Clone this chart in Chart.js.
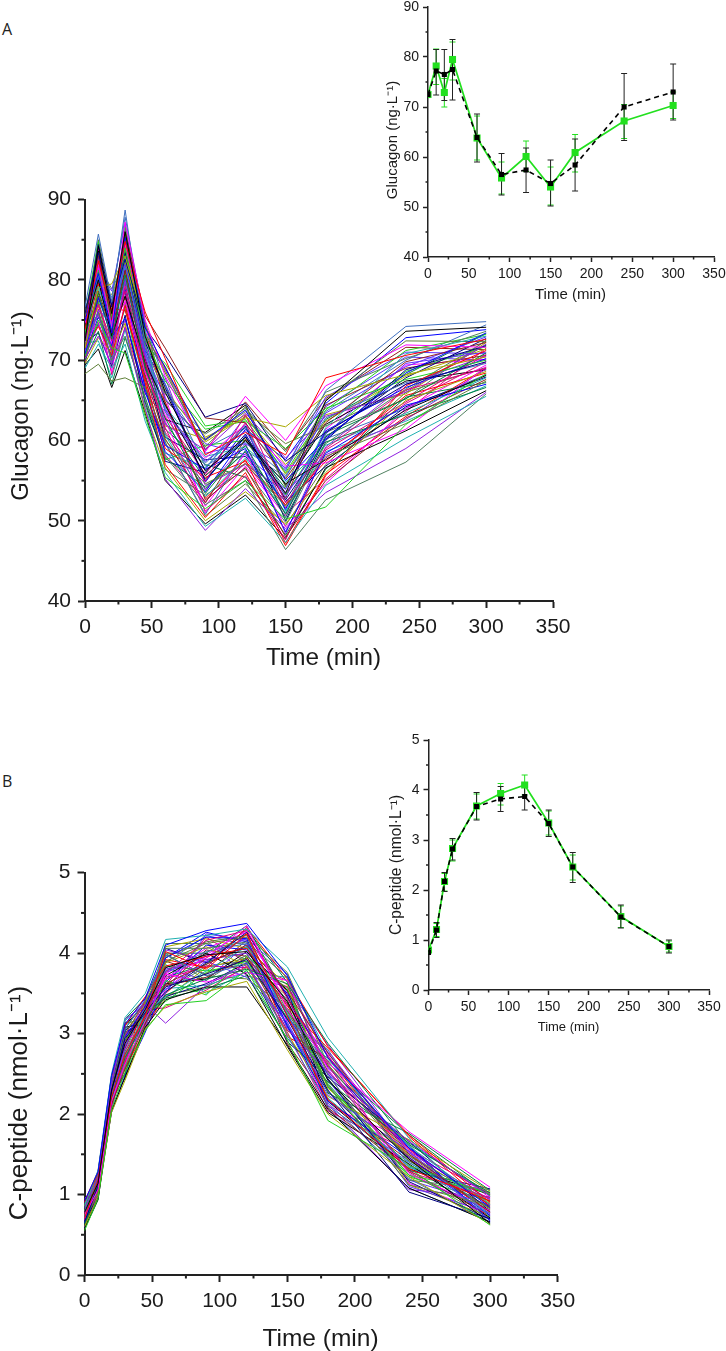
<!DOCTYPE html>
<html>
<head>
<meta charset="utf-8">
<script src="https://cdn.jsdelivr.net/npm/chart.js@4"></script>
<style>
  html, body { margin: 0; background: #fff; }
  body { position: relative; width: 726px; height: 1351px; overflow: hidden; }
  canvas { position: absolute; filter: blur(0.35px); }
  .tag { position: absolute; left: 2px; font: 16px "Open Sans", sans-serif; color: #222; }
</style>
</head>
<body>
<div class="tag" style="top:18px">A</div>
<div class="tag" style="top:770px">B</div>
<canvas id="glucagonRuns"></canvas>
<canvas id="glucagonMean"></canvas>
<canvas id="cpeptideRuns"></canvas>
<canvas id="cpeptideMean"></canvas>
<script>
const timeMin = [0, 10, 20, 30, 60, 90, 120, 150, 180, 240, 300];
const traceMin = [0, 10, 20, 30, 45, 60, 90, 120, 150, 180, 240, 300];

// inset means
const glucagonModel = [72.5, 77.2, 76.5, 77.5, 63.9, 56.5, 57.4, 54.7, 58.4, 70.0, 73.0];
const glucagonObs   = [72.5, 78.2, 72.9, 79.5, 63.8, 55.8, 60.1, 54.0, 60.9, 67.2, 70.3];
const glucagonModelLo = [null, 72.4, 71.3, 71.4, 59.0, 52.4, 52.9, 50.2, 53.2, 63.3, 67.4];
const glucagonModelHi = [null, 81.5, 81.5, 83.5, 68.6, 60.7, 61.8, 59.4, 63.6, 76.7, 78.6];
const glucagonObsLo = [null, 74.5, 70.0, 75.4, 59.4, 52.6, 57.1, 50.4, 57.0, 63.7, 67.7];
const glucagonObsHi = [null, 81.6, 75.7, 83.0, 68.2, 59.0, 63.2, 58.0, 64.5, 70.5, 73.0];

const cpeptideModel = [0.75, 1.20, 2.17, 2.82, 3.67, 3.82, 3.87, 3.33, 2.46, 1.46, 0.87];
const cpeptideObs   = [0.80, 1.21, 2.17, 2.83, 3.68, 3.93, 4.10, 3.34, 2.46, 1.47, 0.87];
const cpeptideModelLo = [null, 1.05, 1.97, 2.60, 3.40, 3.57, 3.60, 3.07, 2.15, 1.24, 0.74];
const cpeptideModelHi = [null, 1.35, 2.35, 3.03, 3.95, 4.07, 4.12, 3.60, 2.75, 1.70, 1.00];
const cpeptideObsLo = [null, 1.07, 1.98, 2.58, 3.42, 3.70, 3.90, 3.10, 2.20, 1.25, 0.76];
const cpeptideObsHi = [null, 1.33, 2.33, 3.00, 3.92, 4.13, 4.30, 3.58, 2.70, 1.68, 0.98];

// individual traces, estimated from the spread of the main panels
const glucagonTraces = [
  [72.4,84.2,75.8,86.0,73.0,66.0,56.2,60.4,53.4,64.9,73.6,74.1],
  [73.8,82.4,76.0,84.8,76.0,70.2,58.2,61.0,58.2,67.8,70.6,72.6],
  [70.5,75.0,71.5,70.9,63.0,55.4,51.5,55.0,50.2,51.7,62.0,68.3],
  [74.9,80.8,73.4,85.3,74.1,69.0,60.1,63.8,55.0,60.2,68.4,73.4],
  [69.0,72.0,69.0,72.0,62.4,56.0,49.3,52.8,47.3,54.4,60.3,65.5],
  [74.6,81.9,74.2,87.2,75.0,68.0,58.6,65.5,60.0,66.8,71.9,71.6],
  [71.5,79.0,79.5,83.0,74.4,68.6,60.4,62.8,61.7,65.6,68.2,70.4],
  [75.8,83.4,76.6,82.6,74.0,70.6,62.9,64.6,57.4,61.0,67.0,69.8],
  [70.2,73.0,69.5,74.0,64.0,55.2,48.8,54.0,49.0,53.5,59.0,66.0],
  [75.1,83.0,75.0,86.0,75.5,71.5,62.8,62.2,55.2,62.2,69.8,72.2],
  [68.3,69.5,67.4,67.8,66.6,60.0,54.6,57.1,51.8,58.0,62.1,67.4],
  [73.1,78.4,72.6,80.6,69.0,62.8,53.4,59.4,50.8,60.6,65.2,70.9],
  [76.6,85.7,77.2,88.7,72.0,63.6,57.2,61.6,56.2,66.2,74.2,74.8],
  [72.8,77.0,71.2,79.2,70.0,61.0,54.9,63.2,52.2,59.0,66.3,69.0],
  [71.1,76.2,74.8,81.9,71.0,65.2,59.6,58.2,53.9,63.4,69.2,72.9],
  [72.0,76.0,70.0,73.0,65.0,58.0,52.0,55.0,46.4,52.6,57.3,65.8],
  [74.0,80.0,73.0,78.0,69.8,64.4,55.6,60.0,54.6,57.6,63.8,68.1],
  [71.7,74.2,70.6,76.8,67.2,57.0,50.4,56.0,46.9,55.6,66.8,71.2],
  [73.4,81.2,75.4,84.0,72.6,67.4,61.4,62.4,59.0,64.0,67.6,70.0],
  [70.8,77.8,72.9,75.2,66.0,59.4,56.4,59.0,48.6,58.4,64.4,67.0],
  [75.4,79.2,74.0,82.8,73.8,60.6,53.0,57.8,51.0,61.6,70.8,73.0],
  [72.2,74.8,68.6,77.4,68.4,63.2,57.8,62.0,56.8,57.2,61.4,69.2],
  [69.6,72.8,71.0,74.6,63.6,56.6,50.0,53.6,49.6,56.0,65.0,68.6],
  [74.4,84.4,76.8,83.4,72.2,66.6,55.0,60.8,52.6,60.0,68.8,71.8],
  [73.0,75.6,69.8,79.8,70.6,62.0,58.8,63.4,57.8,63.0,66.0,72.0],
  [71.3,78.6,73.6,81.2,69.4,64.8,52.6,56.6,48.0,55.0,62.8,67.6],
  [76.0,82.0,75.6,85.8,73.4,68.4,59.2,64.2,54.2,65.0,72.4,72.3],
  [70.0,73.6,67.0,72.8,65.4,57.8,54.2,58.6,50.4,59.8,63.2,66.6],
  [72.6,80.6,77.8,87.8,74.6,67.0,56.8,59.8,55.6,62.8,67.2,69.6],
  [74.2,76.8,72.4,78.6,68.8,61.6,51.2,55.6,47.6,58.8,64.8,70.7],
  [71.9,83.0,70.8,80.2,70.4,63.8,57.4,61.2,53.0,60.8,69.6,71.0],
  [73.6,77.6,74.6,83.8,71.6,65.8,60.8,64.0,58.6,66.0,70.2,73.6],
  [69.4,71.4,66.6,71.2,63.4,55.0,49.6,53.2,47.8,56.6,61.2,66.2],
  [72.9,79.6,76.4,76.2,67.6,59.0,55.4,57.4,52.0,57.4,65.6,68.4],
  [75.6,84.8,73.8,86.6,71.8,69.6,61.8,62.6,56.0,63.8,71.2,73.2],
  [70.6,75.4,71.8,78.8,66.4,58.6,53.6,60.6,51.4,61.2,66.6,70.2],
  [74.7,78.8,75.2,81.6,70.8,64.2,58.0,59.2,54.8,59.4,63.4,67.8],
  [71.6,81.6,72.2,84.4,72.8,62.4,51.8,58.4,49.2,54.6,64.0,69.4],
  [73.3,76.6,78.2,82.2,73.2,66.4,59.8,63.0,57.0,62.4,68.0,71.4],
  [72.3,73.4,69.2,75.6,64.8,57.4,56.0,61.8,50.0,60.4,67.8,72.7],
  [75.0,82.8,74.4,80.0,71.4,67.8,54.4,57.0,53.6,58.2,62.6,68.9],
  [70.3,78.0,73.2,77.8,68.2,60.2,52.2,60.2,52.8,64.4,69.0,70.6],
  [73.9,85.0,77.0,85.0,74.8,65.0,60.0,63.6,59.6,61.8,66.2,71.9],
  [71.0,74.6,70.4,83.2,69.6,61.4,57.0,55.4,48.2,56.4,65.4,67.2],
  [74.8,80.4,75.0,79.0,67.0,59.6,50.8,58.8,55.4,63.6,70.0,74.4],
  [69.8,76.4,68.2,74.2,65.8,63.0,55.8,62.2,51.6,57.8,64.6,69.8],
  [72.7,81.4,78.6,87.0,72.4,68.8,58.4,59.6,56.6,65.4,71.0,70.8],
  [73.2,75.8,71.6,76.4,66.8,56.4,53.2,56.4,49.8,59.6,66.4,72.4],
  [71.4,83.6,73.0,81.4,70.2,62.6,61.0,64.4,54.4,62.0,67.4,68.8],
  [75.3,79.4,76.2,84.6,73.6,64.6,52.8,57.6,47.2,55.8,63.0,69.0],
  [70.9,77.2,69.4,77.0,64.4,57.6,59.4,60.0,53.2,60.9,68.6,71.7],
  [74.3,80.2,74.8,82.4,71.2,67.0,54.8,61.4,57.6,64.6,72.8,73.8],
  [72.1,72.4,67.8,73.8,63.8,58.4,56.6,62.0,51.2,58.6,62.4,66.8],
  [73.7,84.0,72.0,86.4,74.2,65.4,51.0,56.8,50.6,61.4,69.4,70.1],
  [71.2,78.2,75.8,80.8,68.6,61.8,60.2,63.2,55.8,63.2,65.8,72.2],
  [76.3,81.0,77.4,78.4,69.2,60.4,57.6,58.0,52.4,56.8,64.2,67.9],
  [70.4,74.4,70.2,75.0,66.2,63.6,53.8,59.6,48.4,59.2,67.0,70.5],
  [73.5,82.2,73.2,83.6,72.9,69.2,58.8,64.8,58.8,65.2,71.6,71.3],
  [72.5,77.4,71.4,85.6,70.0,59.8,50.6,54.6,49.4,57.0,66.0,69.1],
  [74.5,75.2,76.0,79.6,67.8,62.2,55.2,60.4,54.0,62.6,68.2,73.3],
  [69.2,79.8,72.8,81.0,69.0,66.2,59.0,61.6,53.4,60.2,64.0,68.2],
  [75.2,83.8,74.6,77.2,68.0,58.2,52.4,57.2,50.9,55.2,63.6,71.5],
  [71.8,76.0,70.9,84.2,71.0,64.0,56.4,63.0,56.4,64.2,70.4,70.0],
  [73.0,81.8,78.9,82.0,72.2,60.8,54.0,58.6,51.9,61.0,65.2,72.5]
];

const cpeptideTraces = [
  [0.78,1.14,2.30,2.88,3.30,3.82,3.98,4.02,3.40,2.42,1.44,0.64],
  [0.70,1.18,2.22,2.74,3.22,4.02,3.80,4.24,3.22,2.18,1.32,0.92],
  [0.55,0.95,2.06,2.52,3.04,3.36,3.41,3.79,2.92,1.92,1.33,0.62],
  [0.92,1.28,2.48,3.12,3.44,4.10,4.28,4.37,3.72,2.70,1.58,0.84],
  [0.86,1.30,2.50,3.20,3.50,4.17,4.22,4.30,3.83,2.95,1.70,0.72],
  [0.74,1.06,2.16,2.62,3.16,3.70,3.94,4.34,3.30,2.64,1.78,1.09],
  [0.60,0.98,2.02,2.42,3.06,3.34,3.52,3.65,2.80,2.00,1.22,0.63],
  [0.66,1.10,2.28,2.94,3.26,3.58,3.74,3.92,3.18,2.30,1.03,0.70],
  [0.82,1.22,2.38,3.18,3.36,3.13,3.60,3.86,3.06,2.52,1.66,0.98],
  [0.94,1.04,2.12,2.56,3.12,3.62,3.86,4.10,3.52,2.76,1.50,0.78],
  [0.72,1.24,2.34,3.00,3.38,3.90,4.12,4.20,3.28,2.36,1.12,0.86],
  [0.62,1.12,2.20,2.70,3.18,3.48,3.68,3.80,3.62,2.88,1.62,1.02],
  [0.88,1.20,2.42,3.06,3.42,3.98,3.72,3.88,2.98,2.10,1.40,0.76],
  [0.76,1.00,2.10,2.66,3.24,3.76,4.16,4.28,3.44,2.60,1.28,0.96],
  [0.68,1.16,2.26,2.84,3.32,3.55,3.90,3.70,3.14,2.24,1.54,0.68],
  [0.84,1.08,2.18,2.78,3.20,4.06,4.06,4.14,3.70,2.48,1.18,1.06],
  [0.58,0.94,2.04,2.46,3.08,3.42,3.58,3.58,2.86,2.06,1.08,0.66],
  [0.90,1.26,2.44,3.10,3.46,3.84,3.96,4.06,3.34,2.82,1.74,0.90],
  [0.75,1.02,2.14,2.60,3.14,3.66,3.48,3.96,3.56,2.34,1.36,1.00],
  [0.64,1.13,2.36,2.96,3.34,3.94,4.20,4.18,3.10,2.16,1.46,0.74],
  [0.80,1.19,2.24,2.72,3.28,3.46,3.78,4.08,3.24,2.68,1.60,0.88],
  [0.71,1.07,2.08,2.90,3.10,3.74,3.64,3.76,3.66,2.56,1.26,0.80],
  [0.86,1.25,2.40,2.54,3.40,3.88,4.08,3.84,3.00,2.22,1.68,1.04],
  [0.67,0.97,2.32,3.04,3.22,3.52,3.88,4.26,3.46,2.44,1.16,0.69],
  [0.77,1.21,2.16,2.68,3.30,4.04,3.92,4.00,3.16,2.78,1.52,0.94],
  [0.93,1.15,2.46,2.82,3.36,3.60,3.70,3.94,3.38,2.08,1.30,0.73],
  [0.61,1.05,2.20,3.14,3.16,3.96,4.14,4.22,3.76,2.62,1.42,0.82],
  [0.83,1.27,2.28,2.50,3.26,3.44,3.56,3.72,2.94,2.40,1.64,0.99],
  [0.73,1.11,2.06,2.76,3.06,3.78,4.02,4.12,3.26,2.14,1.20,0.65],
  [0.69,1.01,2.38,2.98,3.42,3.68,3.84,3.82,3.58,2.72,1.56,1.01],
  [0.87,1.23,2.18,2.58,3.18,3.50,4.24,4.16,3.08,2.50,1.10,0.77],
  [0.79,1.09,2.30,2.86,3.34,4.00,3.66,3.98,3.42,2.28,1.48,0.91],
  [0.63,0.96,2.12,3.08,3.12,3.72,4.00,3.74,2.84,2.02,1.38,0.71],
  [0.91,1.29,2.42,2.64,3.44,3.92,3.82,4.32,3.68,2.84,1.72,0.85],
  [0.74,1.17,2.24,2.92,3.24,3.40,3.76,3.90,3.20,2.38,1.24,1.03],
  [0.59,1.03,2.02,2.48,3.02,3.64,4.10,4.04,3.50,2.58,1.60,0.67],
  [0.85,1.13,2.34,3.16,3.38,3.86,3.50,3.78,3.12,2.20,1.34,0.95],
  [0.70,1.24,2.14,2.80,3.20,3.54,3.98,4.28,3.36,2.74,1.14,0.75],
  [0.81,0.99,2.26,2.70,3.28,4.08,4.18,4.06,3.60,2.32,1.50,0.89],
  [0.65,1.15,2.40,3.02,3.14,3.46,3.62,3.88,2.90,2.46,1.66,0.79],
  [0.89,1.06,2.10,2.60,3.32,3.80,3.90,4.20,3.48,2.12,1.06,0.97],
  [0.76,1.20,2.32,2.90,3.36,3.58,4.04,3.96,3.04,2.66,1.44,0.83],
  [0.62,1.10,2.18,2.44,3.10,3.98,3.72,3.68,3.32,2.54,1.28,0.70],
  [0.84,1.26,2.46,3.06,3.40,3.70,3.86,4.30,3.64,2.26,1.76,1.05],
  [0.72,1.02,2.08,2.74,3.22,3.88,4.22,4.10,3.18,2.80,1.36,0.74],
  [0.78,1.18,2.36,2.84,3.30,3.32,3.54,3.84,3.02,2.04,1.54,0.93],
  [0.95,1.12,2.22,2.96,3.16,3.76,3.96,4.18,3.74,2.42,1.18,0.87],
  [0.57,0.93,2.16,2.66,3.26,4.12,4.12,3.92,3.28,2.60,1.62,0.64],
  [0.82,1.22,2.30,3.10,3.38,3.62,3.68,4.02,3.54,2.16,1.32,1.00],
  [0.68,1.08,2.44,2.56,3.06,3.50,3.94,4.24,2.96,2.70,1.46,0.78],
  [0.88,1.16,2.12,2.78,3.34,3.84,3.78,3.86,3.40,2.34,1.22,0.92],
  [0.73,1.04,2.26,3.00,3.18,3.94,4.26,4.14,3.22,2.50,1.58,0.68],
  [0.64,1.28,2.38,2.68,3.28,3.56,3.60,3.76,3.70,2.76,1.40,0.84],
  [0.80,1.00,2.04,2.88,3.42,3.74,4.06,4.26,3.14,2.10,1.68,0.96],
  [0.75,1.14,2.34,3.14,3.12,3.44,3.82,3.94,3.46,2.62,1.12,0.72],
  [0.92,1.19,2.20,2.50,3.24,4.06,3.88,4.08,3.08,2.28,1.30,1.07],
  [0.60,1.07,2.28,2.82,3.36,3.66,4.16,3.72,3.58,2.86,1.52,0.76],
  [0.86,1.25,2.48,2.98,3.20,3.90,3.74,4.16,2.88,2.18,1.42,0.88],
  [0.71,0.99,2.14,2.62,3.14,3.48,3.58,3.82,3.30,2.44,1.24,0.81],
  [0.83,1.23,2.24,3.18,3.44,4.00,4.00,4.34,3.44,2.64,1.74,0.98],
  [0.66,1.11,2.40,2.72,3.26,3.78,3.92,4.00,3.10,2.08,1.08,0.66],
  [0.77,1.05,2.10,2.92,3.32,3.60,4.20,3.88,3.66,2.52,1.56,0.86],
  [0.90,1.21,2.32,2.76,3.08,3.82,3.66,4.12,3.24,2.36,1.34,1.02],
  [0.69,1.17,2.18,3.04,3.30,3.52,3.84,3.90,3.36,2.72,1.48,0.79]
];

const traceColors = ['#000000', '#ff0000', '#22d022', '#0000ff', '#20b0b0', '#ff00ff', '#a8a800', '#000080',
  '#9020e0', '#902020', '#60803a', '#008040', '#4070c0', '#e00080', '#6030ff', '#508060'];

// short ticks between the labelled ones, the library only does one tick length
const minorTicks = {
  id: 'minorTicks',
  afterDraw(chart, args, opts) {
    const { ctx } = chart;
    ctx.save();
    ctx.strokeStyle = '#222';
    ctx.lineWidth = opts.width;
    chart.scales.x.ticks.forEach(t => {
      if (t.value % opts.xMajor === 0) return;
      const px = chart.scales.x.getPixelForValue(t.value);
      ctx.beginPath();
      ctx.moveTo(px, chart.chartArea.bottom);
      ctx.lineTo(px, chart.chartArea.bottom + opts.len);
      ctx.stroke();
    });
    chart.scales.y.ticks.forEach(t => {
      if (t.value % opts.yMajor === 0) return;
      const py = chart.scales.y.getPixelForValue(t.value);
      ctx.beginPath();
      ctx.moveTo(chart.chartArea.left, py);
      ctx.lineTo(chart.chartArea.left - opts.len, py);
      ctx.stroke();
    });
    ctx.restore();
  }
};

const errorBars = {
  id: 'errorBars',
  beforeDatasetsDraw(chart, args, opts) {
    if (!opts.sets) return;
    const { ctx, scales: { x, y } } = chart;
    ctx.save();
    ctx.lineWidth = 1;
    opts.sets.forEach(set => {
      ctx.strokeStyle = set.color;
      timeMin.forEach((t, i) => {
        if (set.lo[i] === null) return;
        const px = x.getPixelForValue(t);
        const yLo = y.getPixelForValue(set.lo[i]);
        const yHi = y.getPixelForValue(set.hi[i]);
        ctx.beginPath();
        ctx.moveTo(px, yLo); ctx.lineTo(px, yHi);
        ctx.moveTo(px - 3, yLo); ctx.lineTo(px + 3, yLo);
        ctx.moveTo(px - 3, yHi); ctx.lineTo(px + 3, yHi);
        ctx.stroke();
      });
    });
    ctx.restore();
  }
};

// axis names sit off-centre in the reference, so they are placed by hand
const axisNames = {
  id: 'axisNames',
  afterDraw(chart, args, opts) {
    const { ctx } = chart;
    ctx.save();
    ctx.fillStyle = '#1a1a1a';
    ctx.textAlign = 'center';
    ctx.textBaseline = 'middle';
    ctx.font = opts.xSize + 'px "Liberation Sans"';
    ctx.fillText(opts.xText, opts.xAt[0], opts.xAt[1]);
    ctx.translate(opts.yAt[0], opts.yAt[1]);
    ctx.rotate(-Math.PI / 2);
    ctx.font = opts.ySize + 'px "Liberation Sans"';
    ctx.fillText(opts.yText, 0, 0);
    ctx.restore();
  }
};

function buildChart(id, box, plot, axes, datasets, names, errors) {
  const canvas = document.getElementById(id);
  canvas.width = box[2];
  canvas.height = box[3];
  canvas.style.left = box[0] + 'px';
  canvas.style.top = box[1] + 'px';
  const plotLeft = plot[0] - box[0], plotTop = plot[1] - box[1];
  const tickOpts = { color: '#1a1a1a', padding: axes.pad, autoSkip: false, maxRotation: 0, font: { family: 'Liberation Sans', size: axes.font } };
  return new Chart(canvas, {
    type: 'line',
    data: { datasets },
    plugins: [minorTicks, errorBars, axisNames],
    options: {
      responsive: false,
      animation: false,
      layout: {
        autoPadding: false,
        padding: { left: 0, top: plotTop, right: box[2] - (plot[2] - box[0]), bottom: 0 }
      },
      scales: {
        x: {
          type: 'linear', min: 0, max: 350,
          afterFit: s => { s.height = box[3] - (plot[3] - box[1]); },
          border: { color: '#222', width: axes.line },
          grid: {
            drawOnChartArea: false, tickLength: axes.tick, tickWidth: axes.line,
            tickColor: c => (c.tick && c.tick.value % 50 === 0 ? '#222' : 'transparent')
          },
          ticks: { ...tickOpts, stepSize: 25, callback: v => (v % 50 === 0 ? v : '') }
        },
        y: {
          min: axes.yMin, max: axes.yMax,
          afterFit: s => { s.width = plotLeft; },
          border: { color: '#222', width: axes.line },
          grid: {
            drawOnChartArea: false, tickLength: axes.tick, tickWidth: axes.line,
            tickColor: c => (c.tick && c.tick.value % axes.yMajor === 0 ? '#222' : 'transparent')
          },
          ticks: { ...tickOpts, stepSize: axes.yMajor / 2, callback: v => (v % axes.yMajor === 0 ? v : '') }
        }
      },
      plugins: {
        legend: { display: false },
        tooltip: { enabled: false },
        minorTicks: { xMajor: 50, yMajor: axes.yMajor, len: axes.tick / 2, width: axes.line },
        errorBars: errors || {},
        axisNames: {
          ...names,
          xAt: [names.xAt[0] - box[0], names.xAt[1] - box[1]],
          yAt: [names.yAt[0] - box[0], names.yAt[1] - box[1]]
        }
      }
    }
  });
}

const toPoints = (vals, times) => vals.map((y, i) => ({ x: times[i], y }));

const traceSets = rows => rows.map((row, i) => ({
  data: toPoints(row, traceMin),
  borderColor: traceColors[i % traceColors.length],
  borderWidth: 1,
  pointRadius: 0,
  tension: 0
}));

// first dataset is painted last, so the black model line goes first
const meanSets = (model, obs) => [
  { data: toPoints(model, timeMin), borderColor: '#000', backgroundColor: '#000', borderWidth: 1.6, borderDash: [5, 4],
    pointStyle: 'rect', pointRadius: 3.6, pointBorderWidth: 0, tension: 0 },
  { data: toPoints(obs, timeMin), borderColor: '#22e01e', backgroundColor: '#22e01e', borderWidth: 1.7,
    pointStyle: 'rect', pointRadius: 5, pointBorderWidth: 0, tension: 0 }
];

const bigAxes = { font: 21, pad: 7, tick: 7, line: 2 };
const smallAxes = { font: 14, pad: 4, tick: 5, line: 1.5 };

buildChart('glucagonRuns', [0, 180, 600, 500], [85, 199.5, 553, 601],
  { ...bigAxes, yMin: 40, yMax: 90, yMajor: 10 }, traceSets(glucagonTraces),
  { xText: 'Time (min)', xAt: [323.5, 658], xSize: 24.3, yText: 'Glucagon (ng·L⁻¹)', yAt: [21, 406], ySize: 24 });

// canvas runs past the page top and right: the scale labels need that room or the plot shrinks
buildChart('glucagonMean', [380, -20, 400, 330], [428, 7, 714, 257],
  { ...smallAxes, yMin: 40, yMax: 90, yMajor: 10 }, meanSets(glucagonModel, glucagonObs),
  { xText: 'Time (min)', xAt: [570.5, 295], xSize: 15, yText: 'Glucagon (ng·L⁻¹)', yAt: [393, 140], ySize: 15 },
  { sets: [
    { color: '#22e01e', lo: glucagonObsLo, hi: glucagonObsHi },
    { color: '#222', lo: glucagonModelLo, hi: glucagonModelHi }
  ] });

buildChart('cpeptideRuns', [0, 850, 600, 501], [84.5, 872.7, 557.7, 1275],
  { ...bigAxes, yMin: 0, yMax: 5, yMajor: 1 }, traceSets(cpeptideTraces),
  { xText: 'Time (min)', xAt: [320.5, 1339], xSize: 24.5, yText: 'C-peptide (nmol·L⁻¹)', yAt: [20, 1103], ySize: 26 });

buildChart('cpeptideMean', [380, 720, 346, 330], [428.5, 740, 709, 990],
  { ...smallAxes, yMin: 0, yMax: 5, yMajor: 1 }, meanSets(cpeptideModel, cpeptideObs),
  { xText: 'Time (min)', xAt: [568.5, 1027], xSize: 13, yText: 'C-peptide (nmol·L⁻¹)', yAt: [396.5, 865], ySize: 15.6 },
  { sets: [
    { color: '#22e01e', lo: cpeptideObsLo, hi: cpeptideObsHi },
    { color: '#222', lo: cpeptideModelLo, hi: cpeptideModelHi }
  ] });
</script>
</body>
</html>
